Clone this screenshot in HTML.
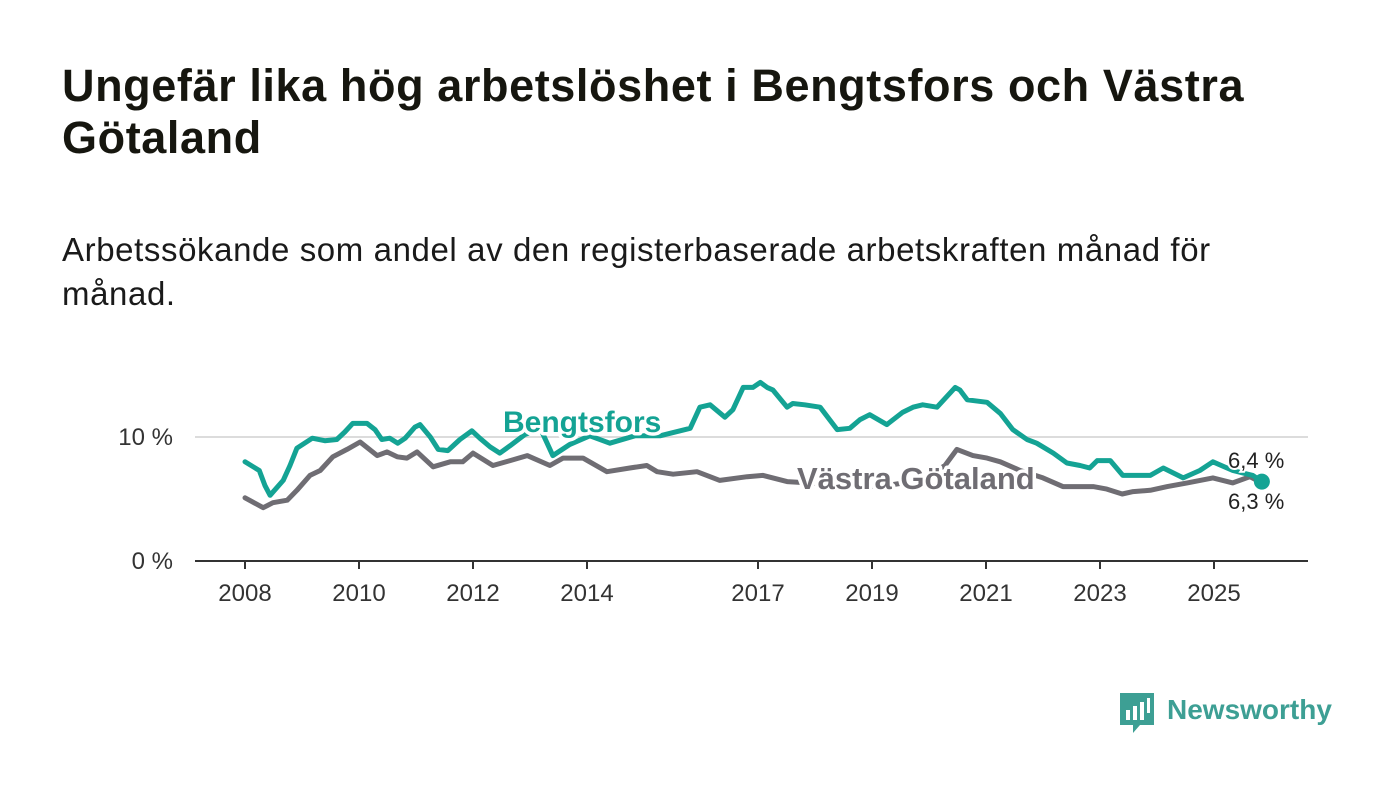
<!DOCTYPE html>
<html><head><meta charset="utf-8"><style>
html,body{margin:0;padding:0;background:#fff;width:1400px;height:794px;overflow:hidden;font-family:"Liberation Sans",sans-serif;}
#t{position:absolute;left:62px;top:60px;width:1250px;font-size:45px;font-weight:bold;color:#16160f;line-height:52px;margin:0;letter-spacing:0.6px}
#s{position:absolute;left:62px;top:228px;width:1250px;font-size:33px;color:#1a1a1a;line-height:44px;margin:0;letter-spacing:0.6px}
svg{position:absolute;left:0;top:0}
</style></head><body>
<h1 id="t">Ungefär lika hög arbetslöshet i Bengtsfors och Västra Götaland</h1>
<p id="s">Arbetssökande som andel av den registerbaserade arbetskraften månad för månad.</p>
<svg id="c" width="1400" height="794"></svg>
<script>
const bYears=[2008.00,2008.25,2008.35,2008.44,2008.67,2008.79,2008.91,2009.18,2009.40,2009.61,2009.75,2009.89,2010.14,2010.28,2010.40,2010.54,2010.68,2010.81,2010.98,2011.07,2011.25,2011.39,2011.56,2011.77,2011.98,2012.12,2012.30,2012.47,2012.65,2012.91,2013.18,2013.40,2013.70,2014.05,2014.40,2014.84,2015.28,2015.81,2015.98,2016.16,2016.42,2016.56,2016.74,2016.91,2017.04,2017.16,2017.26,2017.51,2017.61,2017.82,2018.09,2018.39,2018.61,2018.79,2018.96,2019.26,2019.54,2019.72,2019.89,2020.14,2020.46,2020.54,2020.67,2021.02,2021.25,2021.47,2021.72,2021.89,2022.18,2022.42,2022.65,2022.82,2022.95,2023.18,2023.40,2023.88,2024.11,2024.46,2024.75,2024.98,2025.33,2025.68,2025.84];
const bValues=[8.0,7.3,6.1,5.3,6.5,7.7,9.1,9.9,9.7,9.8,10.4,11.1,11.1,10.6,9.8,9.9,9.5,9.9,10.8,11.0,10.0,9.0,8.9,9.8,10.5,9.9,9.2,8.7,9.3,10.2,10.7,8.5,9.4,10.1,9.5,10.1,10.1,10.7,12.4,12.6,11.6,12.2,14.0,14.0,14.4,14.0,13.8,12.4,12.7,12.6,12.4,10.6,10.7,11.4,11.8,11.0,12.0,12.4,12.6,12.4,14.0,13.8,13.0,12.8,11.9,10.6,9.8,9.5,8.7,7.9,7.7,7.5,8.1,8.1,6.9,6.9,7.5,6.7,7.3,8.0,7.3,6.9,6.4];
const gYears=[2008.00,2008.32,2008.49,2008.74,2008.91,2009.14,2009.32,2009.54,2009.79,2010.02,2010.32,2010.49,2010.67,2010.84,2011.02,2011.30,2011.60,2011.82,2012.00,2012.35,2012.65,2012.95,2013.35,2013.58,2013.93,2014.35,2014.75,2015.05,2015.23,2015.51,2015.93,2016.33,2016.81,2017.09,2017.51,2018.26,2019.14,2019.84,2020.28,2020.49,2020.77,2021.02,2021.25,2021.60,2022.00,2022.35,2022.88,2023.12,2023.39,2023.58,2023.88,2024.18,2024.53,2024.98,2025.33,2025.63,2025.84];
const gValues=[5.1,4.3,4.7,4.9,5.7,6.9,7.3,8.4,9.0,9.6,8.5,8.8,8.4,8.3,8.8,7.6,8.0,8.0,8.7,7.7,8.1,8.5,7.7,8.3,8.3,7.2,7.5,7.7,7.2,7.0,7.2,6.5,6.8,6.9,6.4,6.2,6.0,6.5,7.7,9.0,8.5,8.3,8.0,7.3,6.7,6.0,6.0,5.8,5.4,5.6,5.7,6.0,6.3,6.7,6.3,6.8,6.3];
const xTicks=[2008,2010,2012,2014,2017,2019,2021,2023,2025];
const yTicks=[0,10];
const NS='http://www.w3.org/2000/svg';
const svg=document.getElementById('c');
const X=t=>245+(t-2008)*57;
const Y=v=>561-v*12.4;
function mk(tag,attrs,parent){const e=document.createElementNS(NS,tag);for(const k in attrs)e.setAttribute(k,attrs[k]);(parent||svg).appendChild(e);return e;}
yTicks.forEach(v=>{
  if(v>0){const g=mk('line',{x1:195,x2:1308,y1:Y(v),y2:Y(v),stroke:'#dcdcdc','stroke-width':2});
  
  }
  const t=mk('text',{x:173,y:Y(v)+8,'text-anchor':'end','font-size':24,fill:'#333','font-family':'Liberation Sans, sans-serif'});
  t.textContent=v+' %';
  
  
});
const ax=mk('line',{x1:195,x2:1308,y1:561,y2:561,stroke:'#333','stroke-width':2});


xTicks.forEach(yr=>{
  const tk=mk('line',{x1:X(yr),x2:X(yr),y1:561,y2:569,stroke:'#333','stroke-width':2});
  
  
  const t=mk('text',{x:X(yr),y:601,'text-anchor':'middle','font-size':24,fill:'#333','font-family':'Liberation Sans, sans-serif'});
  t.textContent=yr;
  
  
});
function path(xs,vs){return xs.map((t,i)=>(i?'L':'M')+X(t).toFixed(1)+','+Y(vs[i]).toFixed(1)).join('');}
const gl=mk('path',{d:path(gYears,gValues),fill:'none',stroke:'#6f6d73','stroke-width':5,'stroke-linejoin':'round','stroke-linecap':'round'});


const bl=mk('path',{d:path(bYears,bValues),fill:'none',stroke:'#14a394','stroke-width':5,'stroke-linejoin':'round','stroke-linecap':'round'});


const lb=mk('text',{x:503,y:432,'font-size':30,'font-weight':'bold',fill:'#14a394',stroke:'#fff','stroke-width':7,'paint-order':'stroke','stroke-linejoin':'round','font-family':'Liberation Sans, sans-serif'});
lb.textContent='Bengtsfors';


const lg=mk('text',{x:797,y:489,'font-size':31,'font-weight':'bold',fill:'#6f6d73',stroke:'#fff','stroke-width':7,'paint-order':'stroke','stroke-linejoin':'round','font-family':'Liberation Sans, sans-serif'});
lg.textContent='Västra Götaland';


const n=bYears.length-1;
const dot=mk('circle',{cx:X(bYears[n]),cy:Y(bValues[n]),r:8,fill:'#14a394'});


const v1=mk('text',{x:1228,y:468,'font-size':22,fill:'#222',stroke:'#fff','stroke-width':4,'paint-order':'stroke','font-family':'Liberation Sans, sans-serif'});
v1.textContent=bValues[n].toFixed(1).replace('.',',')+' %';


const gn=gYears.length-1;
const v2=mk('text',{x:1228,y:509,'font-size':22,fill:'#222',stroke:'#fff','stroke-width':4,'paint-order':'stroke','font-family':'Liberation Sans, sans-serif'});
v2.textContent=gValues[gn].toFixed(1).replace('.',',')+' %';


</script>
<svg width="1400" height="794" style="pointer-events:none">
<path d="M1120 693h34v32h-14l-7 8v-8h-13z" fill="#3d9f94"/>
<rect x="1126" y="710" width="4" height="10" fill="#fff"/>
<rect x="1133" y="706" width="4" height="14" fill="#fff"/>
<rect x="1140" y="702" width="4" height="18" fill="#fff"/>
<rect x="1147" y="698" width="3" height="15" fill="#fff"/>
<text x="1167" y="719" font-size="28" font-weight="bold" fill="#3d9f94" font-family="Liberation Sans, sans-serif">Newsworthy</text>
</svg>
</body></html>
